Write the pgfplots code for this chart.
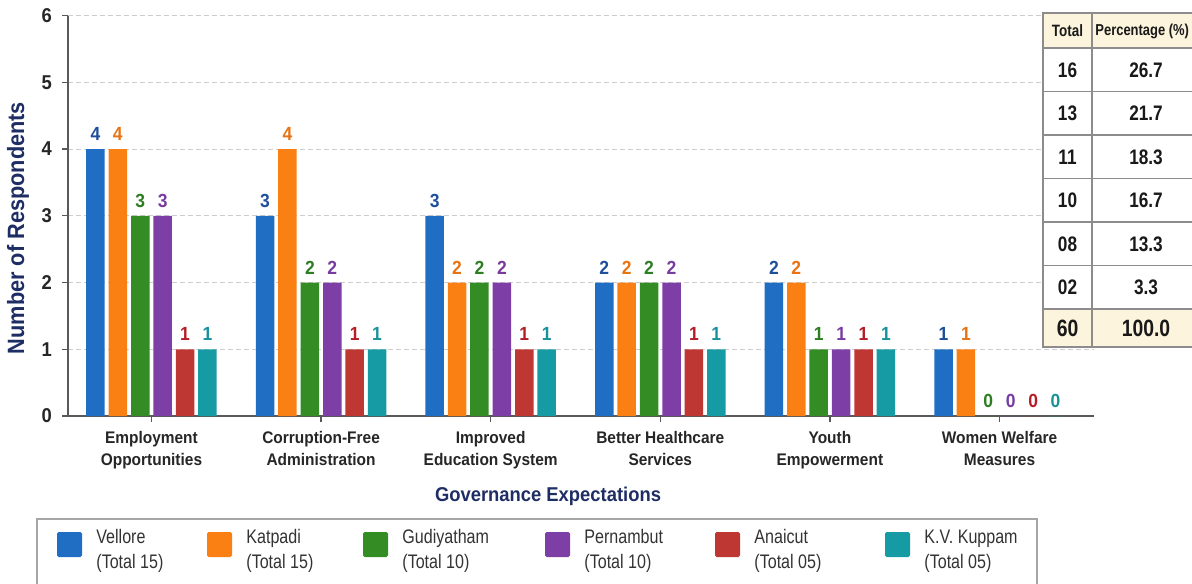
\documentclass[border=0pt]{standalone}
\usepackage{pgfplots}
\pgfplotsset{compat=1.18}
\usepackage{fontspec}
\setmainfont[FakeStretch=0.92]{Liberation Sans}
\newfontfamily\narrowfont[FakeStretch=0.82]{Liberation Sans}

\definecolor{cVel}{RGB}{31,110,196}
\definecolor{cKat}{RGB}{250,128,20}
\definecolor{cGud}{RGB}{51,140,36}
\definecolor{cPer}{RGB}{125,62,165}
\definecolor{cAna}{RGB}{190,55,50}
\definecolor{cKVK}{RGB}{22,155,165}
\definecolor{lVel}{RGB}{31,78,155}
\definecolor{lKat}{RGB}{232,115,20}
\definecolor{lGud}{RGB}{45,125,35}
\definecolor{lPer}{RGB}{120,60,160}
\definecolor{lAna}{RGB}{180,30,40}
\definecolor{lKVK}{RGB}{25,145,155}
\definecolor{navy}{RGB}{30,45,100}
\definecolor{cream}{RGB}{252,244,220}
\definecolor{gridc}{RGB}{205,205,205}

% respondents per expectation, one table per centre
\pgfplotstableread{
x v
0 4
1 3
2 3
3 2
4 2
5 1
}\vellore
\pgfplotstableread{
x v
0 4
1 4
2 2
3 2
4 2
5 1
}\katpadi
\pgfplotstableread{
x v
0 3
1 2
2 2
3 2
4 1
5 0
}\gudiyatham
\pgfplotstableread{
x v
0 3
1 2
2 2
3 2
4 1
5 0
}\pernambut
\pgfplotstableread{
x v
0 1
1 1
2 1
3 1
4 1
5 0
}\anaicut
\pgfplotstableread{
x v
0 1
1 1
2 1
3 1
4 1
5 0
}\kvkuppam

\begin{document}
\begin{tikzpicture}
\useasboundingbox (0,0) rectangle (596pt,-291.5pt);
\clip (0,0) rectangle (596pt,-291.5pt);

\begin{axis}[
  at={(34pt,-208pt)}, anchor=south west,
  scale only axis, width=513pt, height=200.2pt,
  xmin=-0.492, xmax=5.557, ymin=0, ymax=6,
  axis x line*=bottom, axis y line*=left,
  axis line style={draw=black!65, line width=0.6pt},
  ybar, bar width=9.25pt,
  ytick={0,...,6},
  xtick={0,...,5},
  xticklabels={Employment\\Opportunities, Corruption-Free\\Administration,
    Improved\\Education System, Better Healthcare\\Services,
    Youth\\Empowerment, Women Welfare\\Measures},
  xticklabel style={align=center, font=\fontsize{8.4}{11}\selectfont\bfseries, text=black!85, yshift=-1pt},
  yticklabel style={font=\fontsize{10}{11}\selectfont\bfseries, text=black!85, xshift=-1.5pt},
  /pgf/number format/assume math mode=true,
  tick style={draw=black!65, line width=0.6pt},
  major tick length=3pt,
  tick pos=left,
  xtick align=outside, ytick align=outside,
  ymajorgrids, grid style={gridc, dash pattern=on 2.5pt off 1.5pt, line width=0.5pt},
  nodes near coords,
  nodes near coords style={font=\fontsize{9.5}{11}\selectfont\bfseries, anchor=south, inner sep=0pt, yshift=4pt},
  every axis plot/.append style={draw=none},
]
\addplot[fill=cVel, bar shift=-28pt, nodes near coords style={text=lVel}] table[x=x,y=v]{\vellore};
\addplot[fill=cKat, bar shift=-16.8pt, nodes near coords style={text=lKat}] table[x=x,y=v]{\katpadi};
\addplot[fill=cGud, bar shift=-5.6pt, nodes near coords style={text=lGud}] table[x=x,y=v]{\gudiyatham};
\addplot[fill=cPer, bar shift=5.6pt, nodes near coords style={text=lPer}] table[x=x,y=v]{\pernambut};
\addplot[fill=cAna, bar shift=16.8pt, nodes near coords style={text=lAna}] table[x=x,y=v]{\anaicut};
\addplot[fill=cKVK, bar shift=28pt, nodes near coords style={text=lKVK}] table[x=x,y=v]{\kvkuppam};
\end{axis}

\begin{scope}[x=0.5pt, y=-0.5pt]
% axis titles
\node[rotate=90, text=navy, font=\fontsize{11.8}{13}\selectfont\bfseries] at (18,228) {Number of Respondents};
\node[text=navy, font=\fontsize{10}{12}\selectfont\bfseries] at (548,496) {Governance Expectations};

% summary table
\begin{scope}[draw=black!45, line width=0.6pt]
  \fill[white] (1043,13) rectangle (1210,347);
  \fill[cream] (1043,13) rectangle (1210,48);
  \fill[cream] (1043,309) rectangle (1210,347);
  \draw (1043,13) rectangle (1210,347);
  \draw (1092,13) -- (1092,347);
  \foreach \yy in {48,91.5,135,178.5,222,265.5,309} {\draw (1043,\yy) -- (1210,\yy);}
\end{scope}
\begin{scope}[font=\narrowfont\fontsize{8.2}{10}\selectfont\bfseries, text=black!90]
  \node at (1067.5,31) {Total};
  \node[anchor=west, inner sep=0pt] at (1095,31) {\fontsize{7.9}{10}\selectfont Percentage (\%)};
\end{scope}
\begin{scope}[font=\narrowfont\fontsize{10.5}{12}\selectfont\bfseries, text=black!90]
  \node at (1067.5,70) {16};   \node at (1146,70) {26.7};
  \node at (1067.5,113) {13};  \node at (1146,113) {21.7};
  \node at (1067.5,157) {11};  \node at (1146,157) {18.3};
  \node at (1067.5,200) {10};  \node at (1146,200) {16.7};
  \node at (1067.5,244) {08};  \node at (1146,244) {13.3};
  \node at (1067.5,287) {02};  \node at (1146,287) {3.3};
  \node[font=\narrowfont\fontsize{11.8}{13}\selectfont\bfseries] at (1067.5,328) {60};
  \node[font=\narrowfont\fontsize{11.8}{13}\selectfont\bfseries] at (1146,328) {100.0};
\end{scope}

% legend
\draw[black!35, line width=0.6pt] (37,519) rectangle (1037,620);
\foreach \sx/\col/\name/\tot in {57/cVel/Vellore/15, 207/cKat/Katpadi/15, 363/cGud/Gudiyatham/10,
    545/cPer/Pernambut/10, 715/cAna/Anaicut/05, 885/cKVK/K.V. Kuppam/05} {
  \fill[\col, rounded corners=0.8pt] (\sx,532) rectangle ++(25,25);
  \node[anchor=west, align=left, inner sep=0pt, text=black!80,
        font=\narrowfont\fontsize{9.8}{12.5}\selectfont] at (\sx+39,551) {\name\\(Total \tot)};
}
\end{scope}
\end{tikzpicture}
\end{document}
